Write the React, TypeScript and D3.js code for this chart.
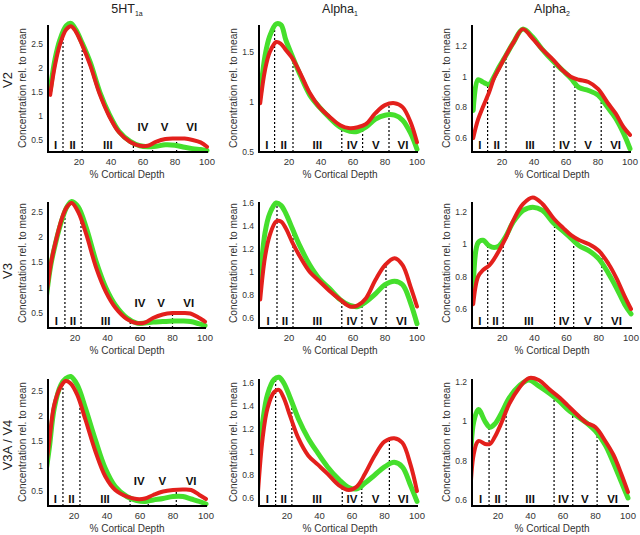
import React from 'react';
import * as d3 from 'd3';

// ---------- data ----------
const DEPTH = [2, 5, 8, 12, 15, 18, 22, 27, 33, 39, 45, 52, 58, 63, 68, 74, 80, 86, 91, 96, 100];
const RECEPTORS = ['5HT', 'Alpha', 'Alpha'];
const RECEPTOR_SUBS = ['1a', '1', '2'];
const AREAS = ['V2', 'V3', 'V3A / V4'];
const X_TICKS = [20, 40, 60, 80, 100];
const LAYERS = ['I', 'II', 'III', 'IV', 'V', 'VI'];
const Y_TICKS_5HT = [0.5, 1, 1.5, 2, 2.5];
const Y_TICKS_A1_V2 = [0.5, 1, 1.5];
const Y_TICKS_A1 = [0.6, 0.8, 1, 1.2, 1.4, 1.6];
const Y_TICKS_A2 = [0.6, 0.8, 1, 1.2];

const GREEN_V2_5HT = [1.54, 2.18, 2.58, 2.88, 2.93, 2.8, 2.52, 2.12, 1.5, 1.03, 0.68, 0.47, 0.38, 0.36, 0.37, 0.4, 0.39, 0.35, 0.32, 0.3, 0.28];
const RED_V2_5HT = [1.44, 2.06, 2.48, 2.8, 2.87, 2.76, 2.48, 2.06, 1.45, 0.99, 0.66, 0.46, 0.38, 0.38, 0.46, 0.52, 0.53, 0.53, 0.5, 0.45, 0.36];
const GREEN_V2_A1 = [1.06, 1.46, 1.66, 1.78, 1.77, 1.62, 1.46, 1.27, 1.07, 0.95, 0.85, 0.75, 0.71, 0.71, 0.75, 0.83, 0.87, 0.87, 0.82, 0.69, 0.53];
const RED_V2_A1 = [0.99, 1.32, 1.5, 1.6, 1.58, 1.52, 1.44, 1.29, 1.09, 0.95, 0.86, 0.77, 0.74, 0.75, 0.78, 0.89, 0.97, 0.99, 0.95, 0.8, 0.6];
const GREEN_V2_A2 = [0.78, 0.98, 0.965, 0.95, 1.0, 1.06, 1.13, 1.22, 1.31, 1.26, 1.18, 1.1, 1.04, 0.99, 0.93, 0.91, 0.88, 0.8, 0.73, 0.63, 0.53];
const RED_V2_A2 = [0.6, 0.72, 0.8, 0.9, 0.99, 1.05, 1.13, 1.22, 1.31, 1.25, 1.18, 1.11, 1.04, 1.0, 0.98, 0.965, 0.92, 0.83, 0.76, 0.67, 0.62];

const GREEN_V3_5HT = [0.72, 1.43, 1.88, 2.35, 2.6, 2.71, 2.6, 2.18, 1.52, 1.0, 0.65, 0.4, 0.3, 0.3, 0.32, 0.33, 0.34, 0.34, 0.33, 0.29, 0.25];
const RED_V3_5HT = [0.72, 1.45, 1.9, 2.38, 2.6, 2.68, 2.5, 2.05, 1.4, 0.92, 0.6, 0.38, 0.3, 0.31, 0.4, 0.47, 0.5, 0.5, 0.49, 0.41, 0.33];
const GREEN_V3_A1 = [0.93, 1.34, 1.51, 1.6, 1.58, 1.51, 1.38, 1.22, 1.06, 0.94, 0.86, 0.76, 0.71, 0.7, 0.74, 0.81, 0.89, 0.92, 0.89, 0.73, 0.55];
const RED_V3_A1 = [0.76, 1.13, 1.32, 1.44, 1.44, 1.38, 1.26, 1.13, 1.0, 0.92, 0.84, 0.76, 0.7, 0.71, 0.77, 0.93, 1.06, 1.12, 1.06, 0.87, 0.7];
const GREEN_V3_A2 = [0.72, 1.01, 1.025, 0.99, 0.98, 0.99, 1.045, 1.14, 1.21, 1.23, 1.21, 1.13, 1.08, 1.035, 0.99, 0.96, 0.91, 0.82, 0.73, 0.63, 0.57];
const RED_V3_A2 = [0.63, 0.8, 0.84, 0.87, 0.91, 0.96, 1.035, 1.15, 1.25, 1.29, 1.25, 1.16, 1.1, 1.055, 1.025, 1.0, 0.96, 0.88, 0.79, 0.68, 0.6];

const GREEN_V3A_5HT = [0.65, 1.35, 2.15, 2.62, 2.75, 2.79, 2.62, 2.15, 1.52, 0.95, 0.59, 0.39, 0.31, 0.29, 0.32, 0.35, 0.39, 0.39, 0.34, 0.29, 0.24];
const RED_V3A_5HT = [0.7, 1.49, 2.22, 2.59, 2.7, 2.65, 2.42, 1.92, 1.29, 0.79, 0.52, 0.39, 0.34, 0.35, 0.42, 0.49, 0.52, 0.53, 0.52, 0.42, 0.34];
const GREEN_V3A_A1 = [0.89, 1.26, 1.5, 1.63, 1.65, 1.6, 1.47, 1.29, 1.12, 0.99, 0.87, 0.76, 0.69, 0.68, 0.73, 0.8, 0.87, 0.91, 0.87, 0.71, 0.57];
const RED_V3A_A1 = [0.62, 1.12, 1.38, 1.52, 1.54, 1.47, 1.31, 1.12, 0.97, 0.89, 0.81, 0.71, 0.67, 0.7, 0.81, 0.97, 1.09, 1.12, 1.08, 0.89, 0.66];
const GREEN_V3A_A2 = [0.5, 0.995, 1.06, 1.0, 0.97, 0.986, 1.04, 1.12, 1.18, 1.21, 1.18, 1.14, 1.1, 1.06, 1.03, 0.995, 0.95, 0.88, 0.79, 0.69, 0.61];
const RED_V3A_A2 = [0.4, 0.83, 0.9, 0.885, 0.885, 0.92, 0.99, 1.09, 1.17, 1.22, 1.21, 1.16, 1.12, 1.08, 1.04, 0.995, 0.97, 0.9, 0.83, 0.73, 0.64];

// layer boundaries (% cortical depth)
const BOUNDS_V2_5HT = [10, 22, 54, 66, 81];
const BOUNDS_V2_A1 = [11, 22.5, 53, 66, 82.5];
const BOUNDS_V2_A2 = [11, 22.5, 52.5, 65.6, 82];
const BOUNDS_V3_5HT = [13.8, 23.7, 54, 66, 80];
const BOUNDS_V3_A1 = [12.5, 22.5, 53, 65.6, 80.6];
const BOUNDS_V3_A2 = [11, 20.6, 52.5, 64.4, 81.9];
const BOUNDS_V3A_5HT = [13.3, 23.6, 54, 65, 82];
const BOUNDS_V3A_A1 = [13, 23, 54, 66, 83];
const BOUNDS_V3A_A2 = [14.5, 25, 54.5, 66, 81];

// ---------- layout ----------
const COL_AXIS_X = [48, 259, 472];
const COL_CENTER = [127, 340, 552];
const ROW_BASE_Y = [152, 328, 506];
const ROW_TOP_Y = [25, 202, 379];
const ROW_CENTER = [88, 263, 442];
const AREA_CENTER = [80, 271, 445];
const X_RANGE = [
  [[47, 207], [257, 417], [470, 630]],
  [[42.5, 205], [257, 417], [470, 631]],
  [[41, 206], [254.5, 417], [465.5, 628]],
];
// [value1, pixel1, value2, pixel2]
const Y_CAL = [
  [[0.5, 140, 2.5, 44], [0.5, 152.3, 1.5, 52], [0.6, 138, 1.2, 46]],
  [[0.5, 313, 2.5, 212], [0.6, 318, 1.6, 203], [0.6, 309, 1.2, 212]],
  [[0.5, 491, 2.5, 391], [0.6, 498, 1.6, 383], [0.6, 500, 1.2, 382]],
];

const PANELS = [
  { row: 0, col: 0, green: GREEN_V2_5HT, red: RED_V2_5HT, ticks: Y_TICKS_5HT, bounds: BOUNDS_V2_5HT },
  { row: 0, col: 1, green: GREEN_V2_A1, red: RED_V2_A1, ticks: Y_TICKS_A1_V2, bounds: BOUNDS_V2_A1 },
  { row: 0, col: 2, green: GREEN_V2_A2, red: RED_V2_A2, ticks: Y_TICKS_A2, bounds: BOUNDS_V2_A2 },
  { row: 1, col: 0, green: GREEN_V3_5HT, red: RED_V3_5HT, ticks: Y_TICKS_5HT, bounds: BOUNDS_V3_5HT },
  { row: 1, col: 1, green: GREEN_V3_A1, red: RED_V3_A1, ticks: Y_TICKS_A1, bounds: BOUNDS_V3_A1 },
  { row: 1, col: 2, green: GREEN_V3_A2, red: RED_V3_A2, ticks: Y_TICKS_A2, bounds: BOUNDS_V3_A2 },
  { row: 2, col: 0, green: GREEN_V3A_5HT, red: RED_V3A_5HT, ticks: Y_TICKS_5HT, bounds: BOUNDS_V3A_5HT },
  { row: 2, col: 1, green: GREEN_V3A_A1, red: RED_V3A_A1, ticks: Y_TICKS_A1, bounds: BOUNDS_V3A_A1 },
  { row: 2, col: 2, green: GREEN_V3A_A2, red: RED_V3A_A2, ticks: Y_TICKS_A2, bounds: BOUNDS_V3A_A2 },
];

const GREEN = '#45df2c';
const RED = '#e3201c';
const FONT = "'Liberation Sans', Arial, Helvetica, sans-serif";

function Panel({ p, idx }: { p: any; idx: number }) {
  const axisX = COL_AXIS_X[p.col];
  const baseY = ROW_BASE_Y[p.row];
  const topY = ROW_TOP_Y[p.row];
  const xr = X_RANGE[p.row][p.col];
  const yc = Y_CAL[p.row][p.col];
  const xs = d3.scaleLinear().domain([0, 100]).range(xr);
  const ys = d3.scaleLinear().domain([yc[0], yc[2]]).range([yc[1], yc[3]]);
  const line = d3
    .line<number>()
    .x((_, i) => xs(DEPTH[i]))
    .y((d) => ys(d))
    .curve(d3.curveCatmullRom.alpha(0.5));
  const gInterp = d3.scaleLinear().domain(DEPTH).range(p.green);
  const rInterp = d3.scaleLinear().domain(DEPTH).range(p.red);
  const axisDepth = xs.invert(axisX);
  const edges = [axisDepth, ...p.bounds, 100];
  const clipId = `clip${idx}`;
  const x100 = xs(100);
  return (
    <g>
      <defs>
        <clipPath id={clipId}>
          <rect x={axisX} y={topY - 15} width={x100 + 6 - axisX} height={baseY + 4 - (topY - 15)} />
        </clipPath>
      </defs>
      {p.bounds.map((b: number, i: number) => {
        const v = Math.max(gInterp(b), rInterp(b));
        return (
          <line
            key={'b' + i}
            x1={xs(b)}
            x2={xs(b)}
            y1={baseY}
            y2={Math.min(ys(v), baseY)}
            stroke="#000"
            strokeWidth={1.2}
            strokeDasharray="2,2"
          />
        );
      })}
      <g clipPath={`url(#${clipId})`}>
        <path d={line(p.green) || ''} fill="none" stroke={GREEN} strokeWidth={5} strokeLinejoin="round" strokeLinecap="round" />
        <path d={line(p.red) || ''} fill="none" stroke={RED} strokeWidth={4} strokeLinejoin="round" strokeLinecap="round" />
      </g>
      <line x1={axisX} x2={axisX} y1={topY} y2={baseY + 1} stroke="#000" strokeWidth={2} />
      <line x1={axisX - 1} x2={x100 + 1} y1={baseY} y2={baseY} stroke="#000" strokeWidth={2} />
      {p.ticks.map((t: number) => (
        <text key={'y' + t} x={axisX - 5} y={ys(t)} dy="0.35em" textAnchor="end" fontSize={8.5} fill="#333">
          {String(t)}
        </text>
      ))}
      {X_TICKS.map((t) => (
        <text key={'x' + t} x={xs(t)} y={baseY + 12.5} textAnchor="middle" fontSize={9.5} fill="#333">
          {String(t)}
        </text>
      ))}
      {LAYERS.map((L, i) => {
        const mid = (edges[i] + edges[i + 1]) / 2;
        const raised = p.col === 0 && i >= 3;
        return (
          <text
            key={'L' + i}
            x={xs(mid)}
            y={raised ? baseY - 21 : baseY - 3}
            textAnchor="middle"
            fontSize={11.5}
            fontWeight="bold"
            fill="#111"
          >
            {L}
          </text>
        );
      })}
      <text x={COL_CENTER[p.col]} y={baseY + 26} textAnchor="middle" fontSize={10} fill="#333">
        % Cortical Depth
      </text>
      <text
        transform={`translate(${axisX - 22},${ROW_CENTER[p.row]}) rotate(-90)`}
        textAnchor="middle"
        fontSize={10.2}
        fill="#333"
      >
        Concentration rel. to mean
      </text>
    </g>
  );
}

export default function App() {
  return (
    <svg
      width={640}
      height={535}
      style={{ display: 'block', position: 'absolute', left: 0, top: 0 }}
      fontFamily={FONT}
    >
      <rect width={640} height={535} fill="#fff" />
      {RECEPTORS.map((r, i) => (
        <text key={'t' + i} x={COL_CENTER[i]} y={13} textAnchor="middle" fontSize={12.5} fill="#222">
          {r}
          <tspan fontSize={7} dy={3}>
            {RECEPTOR_SUBS[i]}
          </tspan>
        </text>
      ))}
      {AREAS.map((a, i) => (
        <text
          key={'a' + i}
          transform={`translate(12,${AREA_CENTER[i]}) rotate(-90)`}
          textAnchor="middle"
          fontSize={13}
          fill="#222"
        >
          {a}
        </text>
      ))}
      {PANELS.map((p, i) => (
        <Panel key={i} p={p} idx={i} />
      ))}
    </svg>
  );
}
